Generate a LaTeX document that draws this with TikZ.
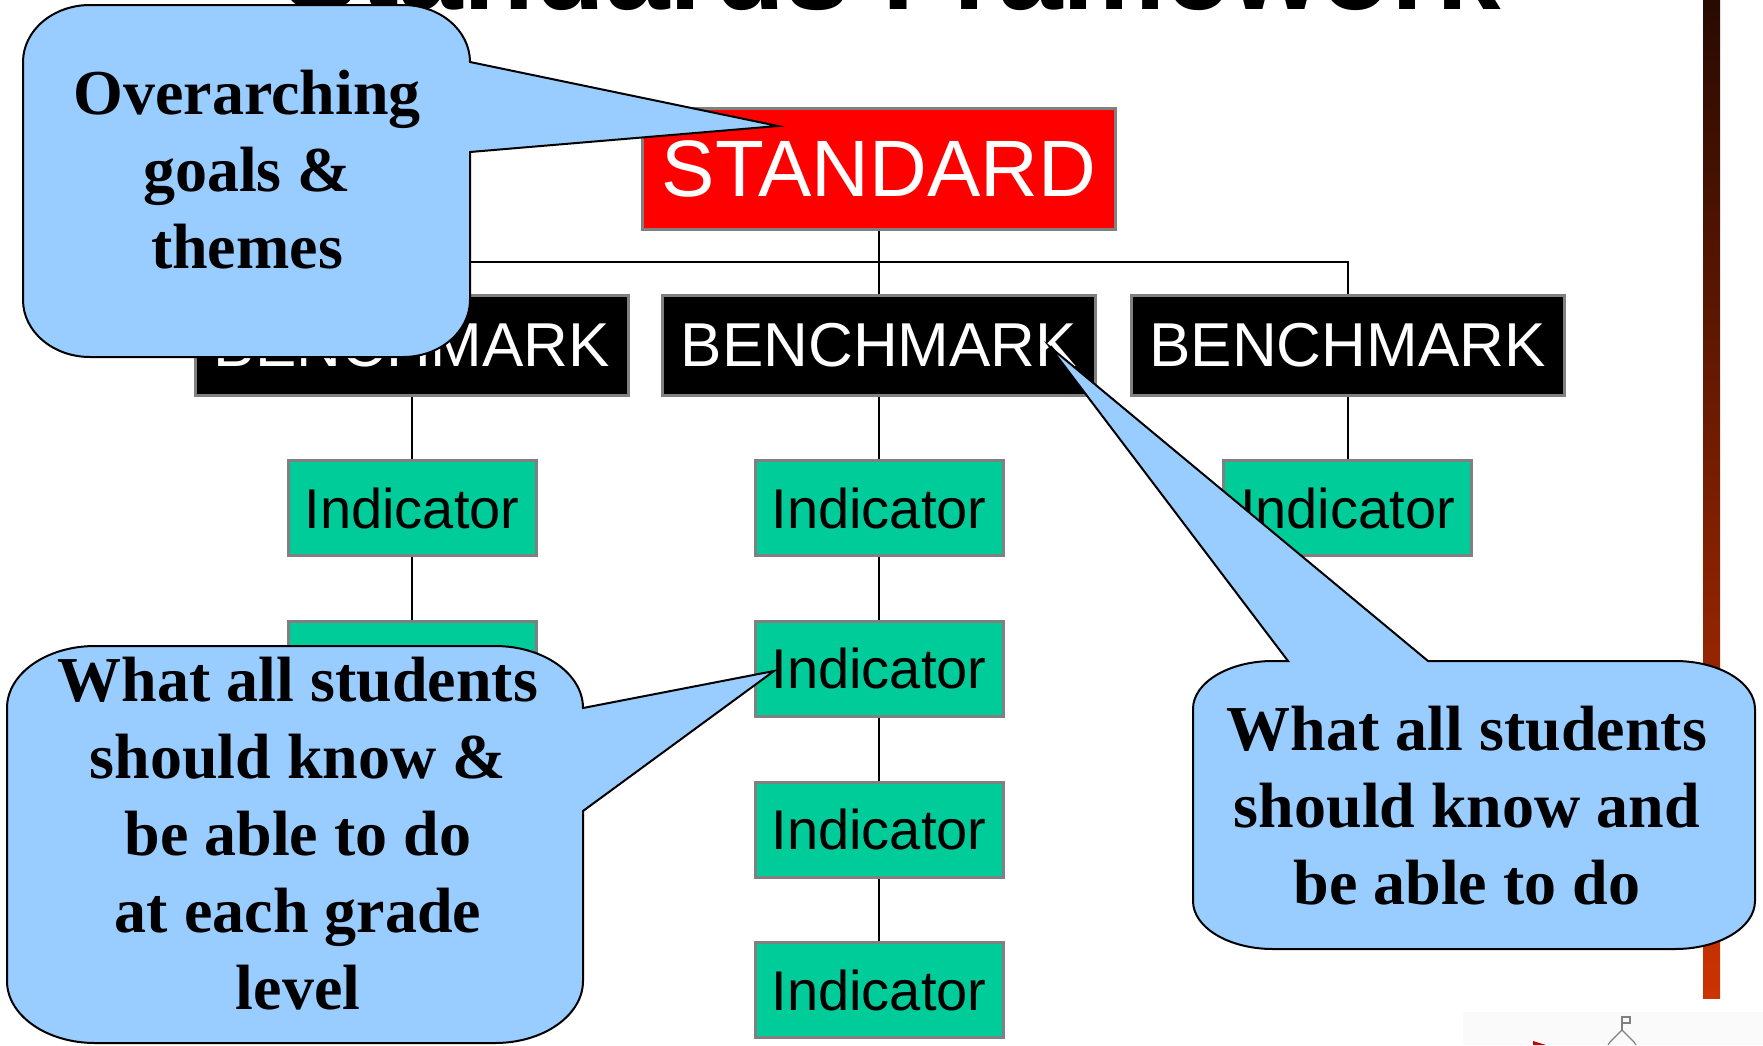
\documentclass[tikz,border=0pt]{standalone}
\usepackage{fontspec}
\setmainfont{Liberation Serif}
\setsansfont{Liberation Sans}
\usepackage{tikz}
\usetikzlibrary{calc}

\definecolor{stdred}{HTML}{FF0000}
\definecolor{indgreen}{HTML}{00CC99}
\definecolor{callblue}{HTML}{99CCFF}
\definecolor{boxgray}{HTML}{808080}
\definecolor{bartop}{RGB}{40,10,0}
\definecolor{barbot}{RGB}{204,51,0}

\tikzset{
  stdbox/.style={draw=boxgray, line width=1.5pt, fill=stdred, text=white, inner sep=0pt,
    minimum width=236.5pt, minimum height=60.5pt, font=\sffamily\fontsize{40}{48}\selectfont},
  bmbox/.style={draw=boxgray, line width=1.5pt, fill=black, text=white, inner sep=0pt,
    minimum width=216.5pt, minimum height=50pt, font=\sffamily\fontsize{31}{37}\selectfont},
  indbox/.style={draw=boxgray, line width=1.5pt, fill=indgreen, text=black, inner sep=0pt,
    minimum width=124pt, minimum height=47.5pt, font=\sffamily\fontsize{28}{34}\selectfont},
  link/.style={draw=black, line width=1pt},
  bubble/.style={draw=black, line width=1pt, fill=callblue},
  bubbletext/.style={align=center, inner sep=0pt, font=\bfseries\fontsize{32}{38.5}\selectfont},
}

\begin{document}
\begin{tikzpicture}[x=0.5pt, y=-0.5pt]
\useasboundingbox (0,0) rectangle (1763,1045);
\clip (0,0) rectangle (1763,1045);

% title, cut off by the top edge
\node[anchor=base, font=\sffamily\bfseries\fontsize{58}{70}\selectfont] (title) at (892,9) {Standards Framework};

% side bar and logo corner
\shade[top color=bartop, bottom color=barbot] (1703,0) rectangle (1720,998);
\fill[gray!4] (1463,1012) rectangle (1763,1045);
\draw[gray, line width=0.6pt] (1622,1030) -- (1622,1017) -- (1630,1017) -- (1630,1023) -- (1622,1023);
\draw[gray, line width=0.6pt] (1608,1045) -- (1610,1042) -- (1622,1030) -- (1634,1042) -- (1636,1045);
\fill[red!80!black] (1533,1041) -- (1546,1045) -- (1533,1045) -- cycle;

% tree
\node[stdbox] (std) at (879,168.5) {STANDARD};
\node[bmbox] (bm1) at (412,345) {BENCHMARK};
\node[bmbox] (bm2) at (879,345) {BENCHMARK};
\node[bmbox] (bm3) at (1347.5,345) {BENCHMARK};
\coordinate (bus) at (879,262);
\draw[link] (std) -- (bm2);
\draw[link] (bm1.north) |- (bus) -| (bm3.north);

\node[indbox] (ind11) at (412,508) {Indicator};
\node[indbox] (ind12) at (412,668.5) {Indicator};
\foreach \r/\y in {1/508,2/668.5,3/829.5,4/990}
  \node[indbox] (ind2\r) at (879,\y) {Indicator};
\node[indbox] (ind31) at (1347.5,508) {Indicator};

\draw[link] (bm1) -- (ind11) -- (ind12);
\draw[link] (bm2) -- (ind21) -- (ind22) -- (ind23) -- (ind24);
\draw[link] (bm3) -- (ind31);

% callouts
\draw[bubble] (23,62) arc[start angle=180, end angle=90, x radius=33.5pt, y radius=28.5pt]
  -- (403,5) arc[start angle=90, end angle=0, x radius=33.5pt, y radius=28.5pt]
  -- (778,126) -- (470,152)
  -- (470,300) arc[start angle=0, end angle=-90, x radius=33.5pt, y radius=28.5pt]
  -- (90,357) arc[start angle=-90, end angle=-180, x radius=33.5pt, y radius=28.5pt] -- cycle;
\node[bubbletext] (goals) at (247,170) {Overarching\\goals \&\\themes};

\draw[bubble] (7,708) arc[start angle=180, end angle=90, x radius=44pt, y radius=31pt]
  -- (495,646) arc[start angle=90, end angle=0, x radius=44pt, y radius=31pt]
  -- (774,671) -- (583,811)
  -- (583,981) arc[start angle=0, end angle=-90, x radius=44pt, y radius=31pt]
  -- (95,1043) arc[start angle=-90, end angle=-180, x radius=44pt, y radius=31pt] -- cycle;
\node[bubbletext] (grade) at (298,834) {What all students\\should know \&\\be able to do\\at each grade\\level};

\draw[bubble] (1193,709) arc[start angle=180, end angle=90, x radius=40pt, y radius=24pt]
  -- (1288,661) -- (1050,347) -- (1428,661)
  -- (1675,661) arc[start angle=90, end angle=0, x radius=40pt, y radius=24pt]
  -- (1755,901) arc[start angle=0, end angle=-90, x radius=40pt, y radius=24pt]
  -- (1273,949) arc[start angle=-90, end angle=-180, x radius=40pt, y radius=24pt] -- cycle;
\node[bubbletext] (know) at (1467,806) {What all students\\should know and\\be able to do};
\end{tikzpicture}
\end{document}
